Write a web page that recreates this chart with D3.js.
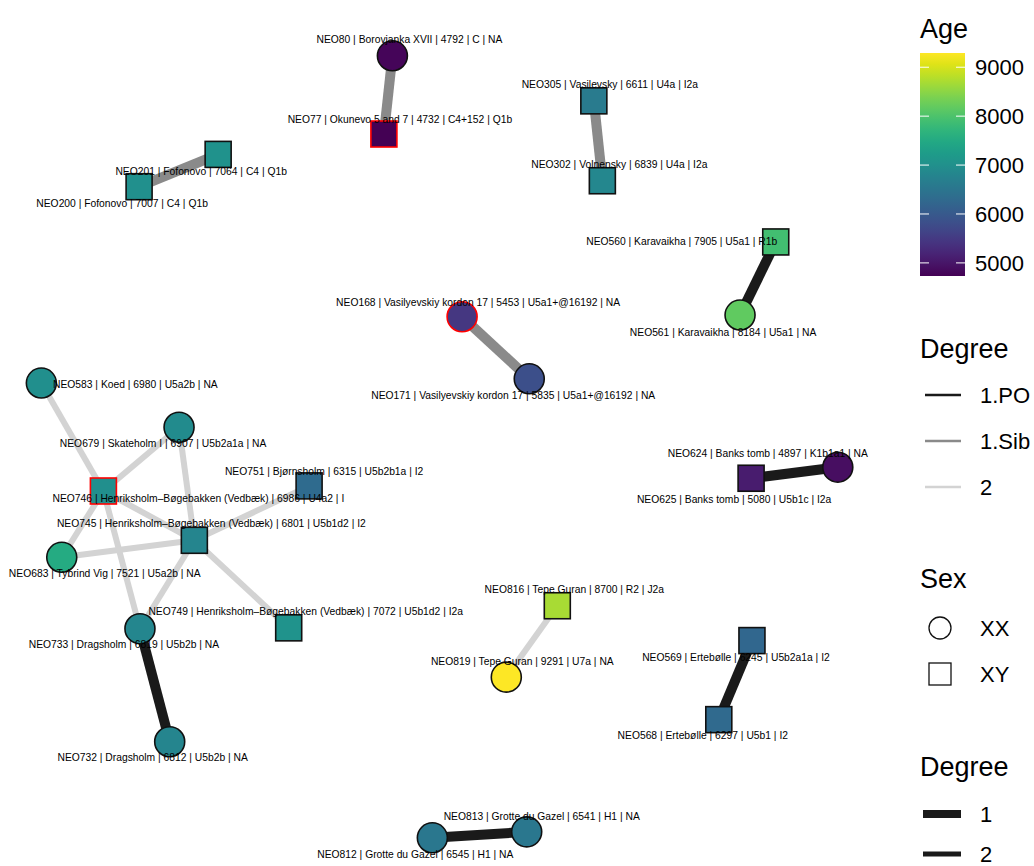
<!DOCTYPE html>
<html>
<head>
<meta charset="utf-8">
<script src="https://cdn.jsdelivr.net/npm/d3@7"></script>
<style>
  body { margin: 0; background: #fff; }
  text { font-family: 'Liberation Sans', Arial, Helvetica, sans-serif; }
</style>
</head>
<body>
<div class="canvas"></div>
<script>
// samples (nodes)
const ids = ['NEO80', 'NEO77', 'NEO201', 'NEO200', 'NEO305', 'NEO302', 'NEO560', 'NEO561', 'NEO168', 'NEO171',
  'NEO624', 'NEO625', 'NEO583', 'NEO679', 'NEO751', 'NEO746', 'NEO745', 'NEO683', 'NEO749', 'NEO733',
  'NEO732', 'NEO816', 'NEO819', 'NEO569', 'NEO568', 'NEO813', 'NEO812'];
const sites = ['Borovjanka XVII', 'Okunevo 5 and 7', 'Fofonovo', 'Fofonovo', 'Vasilevsky', 'Volnensky', 'Karavaikha', 'Karavaikha',
  'Vasilyevskiy kordon 17', 'Vasilyevskiy kordon 17', 'Banks tomb', 'Banks tomb', 'Koed', 'Skateholm I', 'Bjørnsholm',
  'Henriksholm–Bøgebakken (Vedbæk)', 'Henriksholm–Bøgebakken (Vedbæk)', 'Tybrind Vig', 'Henriksholm–Bøgebakken (Vedbæk)',
  'Dragsholm', 'Dragsholm', 'Tepe Guran', 'Tepe Guran', 'Ertebølle', 'Ertebølle', 'Grotte du Gazel', 'Grotte du Gazel'];
const ages = [4792, 4732, 7064, 7007, 6611, 6839, 7905, 8184, 5453, 5835, 4897, 5080, 6980, 6907, 6315, 6986, 6801, 7521,
  7072, 6819, 6812, 8700, 9291, 6245, 6297, 6541, 6545];
const mtHaplo = ['C', 'C4+152', 'C4', 'C4', 'U4a', 'U4a', 'U5a1', 'U5a1', 'U5a1+@16192', 'U5a1+@16192', 'K1b1a1', 'U5b1c',
  'U5a2b', 'U5b2a1a', 'U5b2b1a', 'U4a2', 'U5b1d2', 'U5a2b', 'U5b1d2', 'U5b2b', 'U5b2b', 'R2', 'U7a', 'U5b2a1a', 'U5b1', 'H1', 'H1'];
const yHaplo = ['NA', 'Q1b', 'Q1b', 'Q1b', 'I2a', 'I2a', 'R1b', 'NA', 'NA', 'NA', 'NA', 'I2a', 'NA', 'NA', 'I2', 'I', 'I2',
  'NA', 'I2a', 'NA', 'NA', 'J2a', 'NA', 'I2', 'I2', 'NA', 'NA'];
const sexes = ['XX', 'XY', 'XY', 'XY', 'XY', 'XY', 'XY', 'XX', 'XX', 'XX', 'XX', 'XY', 'XX', 'XX', 'XY', 'XY', 'XY', 'XX',
  'XY', 'XX', 'XX', 'XY', 'XX', 'XY', 'XY', 'XX', 'XX'];
const outlined = ['NEO77', 'NEO168', 'NEO746'];

// graph layout coordinates (layout units)
const layoutX = [-0.56, -0.66, -2.61, -3.54, 1.81, 1.91, 3.95, 3.53, 0.26, 1.05, 4.68, 3.66, -4.69, -3.07, -1.54, -3.96,
  -2.89, -4.45, -1.78, -3.53, -3.18, 1.38, 0.78, 3.67, 3.28, 1.02, -0.09];
const layoutY = [4.52, 3.6, 3.36, 2.98, 3.99, 3.05, 2.33, 1.47, 1.45, 0.72, -0.32, -0.45, 0.67, 0.15, -0.54, -0.6,
  -1.18, -1.38, -2.21, -2.22, -3.55, -1.95, -2.79, -2.36, -3.29, -4.61, -4.68];

// kinship edges
const edgeFrom = ['NEO80', 'NEO201', 'NEO305', 'NEO560', 'NEO168', 'NEO624', 'NEO583', 'NEO679', 'NEO679', 'NEO746',
  'NEO746', 'NEO746', 'NEO745', 'NEO745', 'NEO745', 'NEO745', 'NEO733', 'NEO816', 'NEO569', 'NEO813'];
const edgeTo = ['NEO77', 'NEO200', 'NEO302', 'NEO561', 'NEO171', 'NEO625', 'NEO746', 'NEO746', 'NEO745', 'NEO683',
  'NEO733', 'NEO745', 'NEO751', 'NEO683', 'NEO749', 'NEO733', 'NEO732', 'NEO819', 'NEO568', 'NEO812'];
const edgeRelation = ['1.Sib', '1.Sib', '1.Sib', '1.PO', '1.Sib', '1.PO', '2', '2', '2', '2', '2', '2', '2', '2', '2', '2',
  '1.PO', '2', '1.PO', '1.PO'];
const edgeDegree = ['1', '1', '1', '1', '1', '1', '2', '2', '2', '2', '2', '2', '2', '2', '2', '2', '1', '2', '1', '1'];

const relations = ['1.PO', '1.Sib', '2'];
const degrees = ['1', '2'];
const ageTicks = [5000, 6000, 7000, 8000, 9000];

// label placement (repel-style nudges, px)
const labelNudge = [[17, -16], [16, -15], [-17, 17], [-17, 17], [16, -16], [17, -16], [-94, -1], [-17, 17], [16, -14],
  [-16, 17], [-70, -14], [-17, 21], [94, 1], [-16, 16], [15, -15], [95, 7], [17, -17], [43, 16], [17, -16], [-16, 16],
  [-17, 16], [17, -16], [16, -16], [-16, 17], [-16, 16], [15, -15], [-17, 17]];

const dims = { width: 1034, height: 866 };

const svg = d3
  .select('.canvas')
  .append('svg')
  .attr('width', dims.width)
  .attr('height', dims.height);

svg.append('rect').attr('width', dims.width).attr('height', dims.height).attr('fill', '#fff');

const x = d3.scaleLinear().domain([-5, 5]).range([15, 865]);
const y = d3.scaleLinear().domain([-5, 5]).range([865, 15]);

const color = d3.scaleSequential(d3.interpolateViridis).domain(d3.extent(ages));
const edgeColor = d3.scaleOrdinal().domain(relations).range(['#1a1a1a', '#8a8a8a', '#d3d3d3']);
const edgeWidth = d3.scaleOrdinal().domain(degrees).range([10, 6]);

const nodes = ids.map((id, i) => ({
  id,
  label: `${id} | ${sites[i]} | ${ages[i]} | ${mtHaplo[i]} | ${yHaplo[i]}`,
  age: ages[i],
  sex: sexes[i],
  x: x(layoutX[i]),
  y: y(layoutY[i]),
  nudge: labelNudge[i],
}));
const byId = new Map(nodes.map((n) => [n.id, n]));

const edges = edgeFrom.map((f, i) => ({
  source: byId.get(f),
  target: byId.get(edgeTo[i]),
  relation: edgeRelation[i],
  degree: edgeDegree[i],
}));

const graph = svg.append('g');

//edges first
graph
  .selectAll('line.edge')
  .data(edges)
  .enter()
  .append('line')
  .attr('class', 'edge')
  .attr('x1', (d) => d.source.x)
  .attr('y1', (d) => d.source.y)
  .attr('x2', (d) => d.target.x)
  .attr('y2', (d) => d.target.y)
  .attr('stroke', (d) => edgeColor(d.relation))
  .attr('stroke-width', (d) => edgeWidth(d.degree));

//nodes: circle for XX, square for XY
const nodeG = graph
  .selectAll('g.node')
  .data(nodes)
  .enter()
  .append('g')
  .attr('class', 'node')
  .attr('transform', (d) => `translate(${d.x}, ${d.y})`);

nodeG
  .filter((d) => d.sex === 'XX')
  .append('circle')
  .attr('r', 15);

nodeG
  .filter((d) => d.sex === 'XY')
  .append('rect')
  .attr('x', -13)
  .attr('y', -13)
  .attr('width', 26)
  .attr('height', 26);

nodeG
  .selectAll('circle, rect')
  .attr('fill', (d) => color(d.age))
  .attr('stroke', (d) => (outlined.includes(d.id) ? '#ff0000' : '#111'))
  .attr('stroke-width', 1.6);

//labels on top
graph
  .selectAll('text.lbl')
  .data(nodes)
  .enter()
  .append('text')
  .attr('class', 'lbl')
  .attr('x', (d) => d.x + d.nudge[0])
  .attr('y', (d) => d.y + d.nudge[1])
  .attr('dy', '0.35em')
  .attr('text-anchor', 'middle')
  .attr('font-size', 10.3)
  .attr('fill', '#000')
  .text((d) => d.label);

// legends
const legend = svg.append('g').attr('transform', 'translate(920, 0)');
const titleSize = 27;
const itemSize = 22;

// age colourbar
legend.append('text').attr('x', 0).attr('y', 38).attr('font-size', titleSize).text('Age');

const barTop = 53;
const barBottom = 276;
const ageScale = d3.scaleLinear().domain(d3.extent(ages)).range([barBottom, barTop]);

const defs = svg.append('defs');
const grad = defs
  .append('linearGradient')
  .attr('id', 'ageGrad')
  .attr('x1', 0)
  .attr('y1', 1)
  .attr('x2', 0)
  .attr('y2', 0);
d3.range(0, 1.0001, 0.05).forEach((t) => {
  grad.append('stop').attr('offset', t).attr('stop-color', d3.interpolateViridis(t));
});

legend
  .append('rect')
  .attr('x', 0)
  .attr('y', barTop)
  .attr('width', 45)
  .attr('height', barBottom - barTop)
  .attr('fill', 'url(#ageGrad)');

const tickG = legend.selectAll('g.tick').data(ageTicks).enter().append('g').attr('class', 'tick');
tickG
  .append('line')
  .attr('x1', 0)
  .attr('x2', 9)
  .attr('y1', (d) => ageScale(d))
  .attr('y2', (d) => ageScale(d))
  .attr('stroke', '#fff')
  .attr('stroke-width', 1);
tickG
  .append('line')
  .attr('x1', 36)
  .attr('x2', 45)
  .attr('y1', (d) => ageScale(d))
  .attr('y2', (d) => ageScale(d))
  .attr('stroke', '#fff')
  .attr('stroke-width', 1);
tickG
  .append('text')
  .attr('x', 55)
  .attr('y', (d) => ageScale(d))
  .attr('dy', '0.36em')
  .attr('font-size', itemSize)
  .text((d) => d);

// edge colour legend
legend.append('text').attr('x', 0).attr('y', 358).attr('font-size', titleSize).text('Degree');
const relItem = legend
  .selectAll('g.rel')
  .data(relations)
  .enter()
  .append('g')
  .attr('class', 'rel')
  .attr('transform', (d, i) => `translate(0, ${395 + i * 46})`);
relItem
  .append('line')
  .attr('x1', 5)
  .attr('x2', 41)
  .attr('stroke', (d) => edgeColor(d))
  .attr('stroke-width', 2.4);
relItem.append('text').attr('x', 60).attr('dy', '0.36em').attr('font-size', itemSize).text((d) => d);

// sex legend
legend.append('text').attr('x', 0).attr('y', 588).attr('font-size', titleSize).text('Sex');
const sexItem = legend
  .selectAll('g.sex')
  .data(['XX', 'XY'])
  .enter()
  .append('g')
  .attr('class', 'sex')
  .attr('transform', (d, i) => `translate(20, ${628 + i * 46})`);
sexItem
  .filter((d) => d === 'XX')
  .append('circle')
  .attr('r', 11);
sexItem
  .filter((d) => d === 'XY')
  .append('rect')
  .attr('x', -11)
  .attr('y', -11)
  .attr('width', 22)
  .attr('height', 22);
sexItem.selectAll('circle, rect').attr('fill', 'none').attr('stroke', '#111').attr('stroke-width', 1.3);
sexItem.append('text').attr('x', 40).attr('dy', '0.36em').attr('font-size', itemSize).text((d) => d);

// edge width legend
legend.append('text').attr('x', 0).attr('y', 776).attr('font-size', titleSize).text('Degree');
const degItem = legend
  .selectAll('g.deg')
  .data(degrees)
  .enter()
  .append('g')
  .attr('class', 'deg')
  .attr('transform', (d, i) => `translate(0, ${814 + i * 40})`);
degItem
  .append('line')
  .attr('x1', 3)
  .attr('x2', 41)
  .attr('stroke', '#1a1a1a')
  .attr('stroke-width', (d) => edgeWidth(d) * 0.8);
degItem.append('text').attr('x', 60).attr('dy', '0.36em').attr('font-size', itemSize).text((d) => d);
</script>
</body>
</html>
